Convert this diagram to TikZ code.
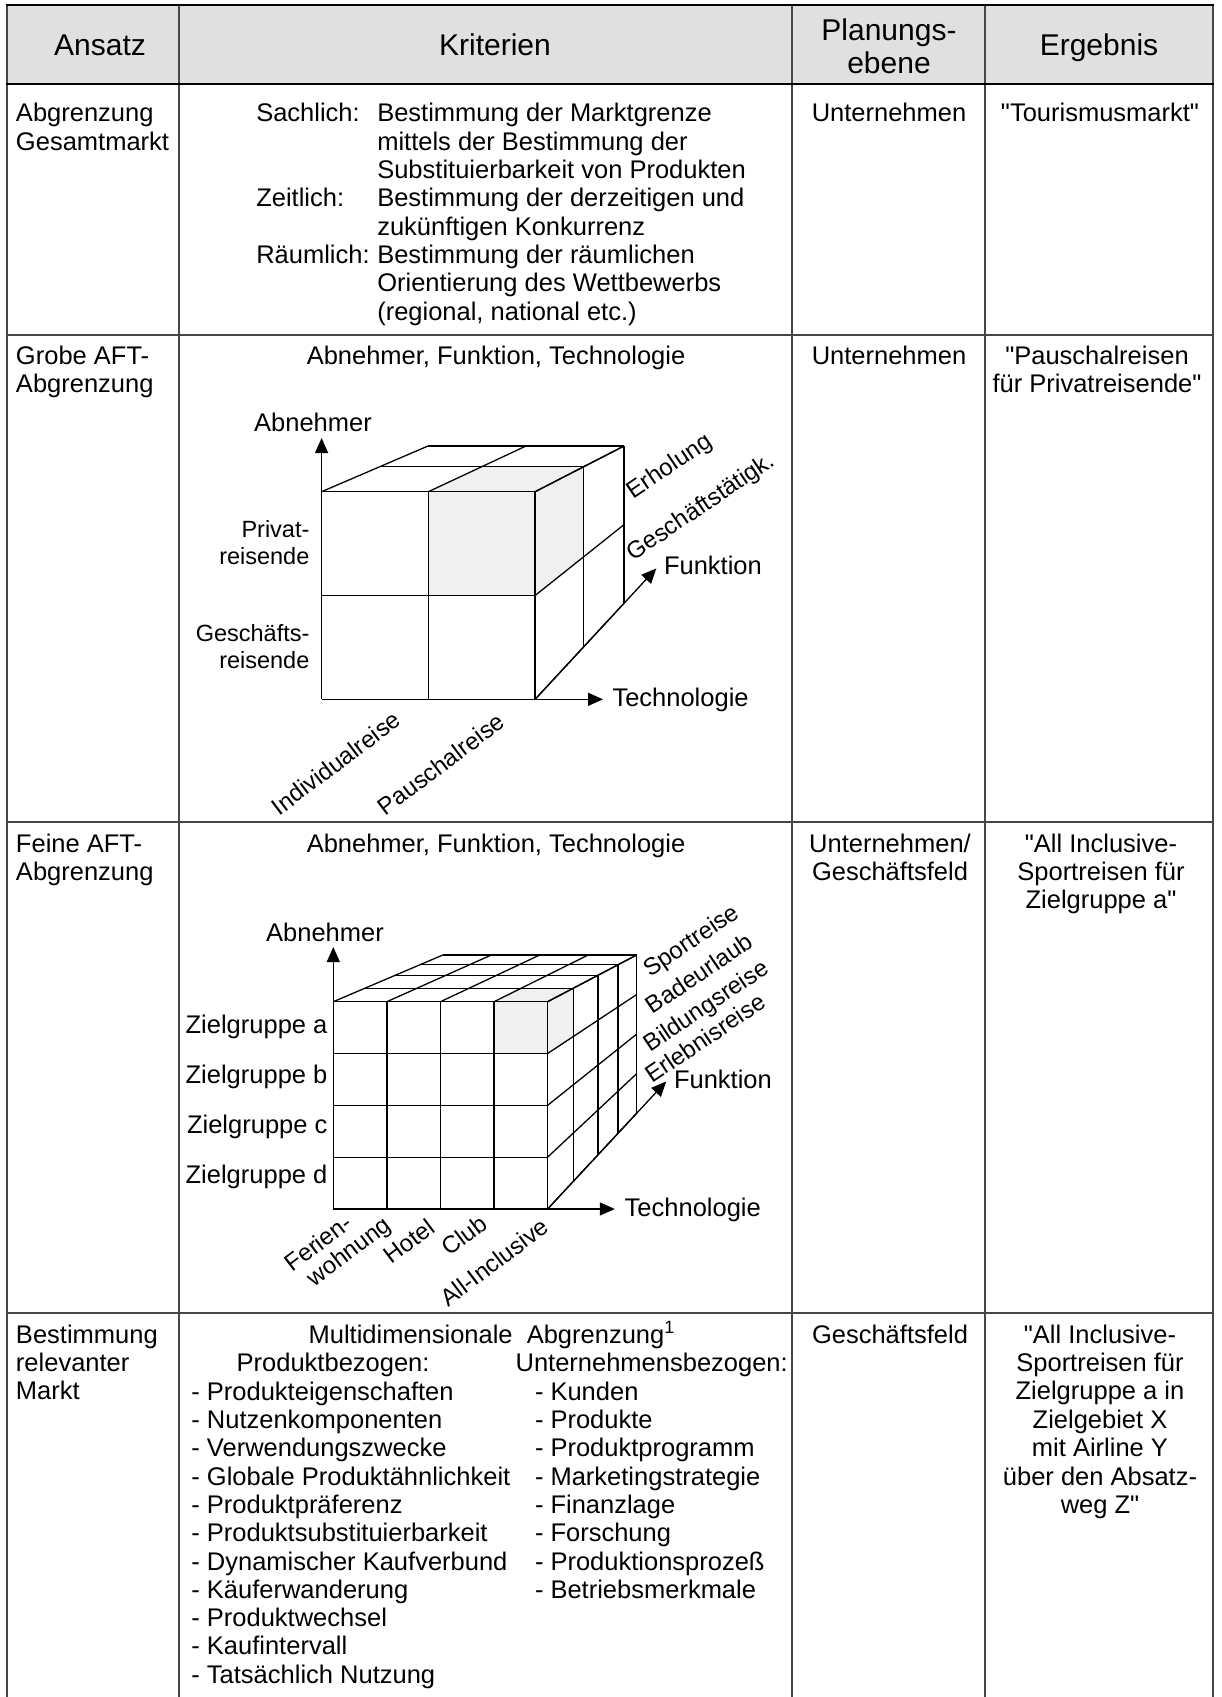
\documentclass[tikz,border=0pt]{standalone}
\usepackage{fontspec}
\setmainfont{Liberation Sans}[Ligatures=TeXOff]
\usetikzlibrary{arrows.meta,calc}

\definecolor{headfill}{RGB}{224,224,224}
\definecolor{cubefill}{RGB}{240,240,240}
\definecolor{rulegray}{RGB}{70,70,70}

% one node per text line, baselines spaced evenly
\newcommand\stacklines[6]{%
  \foreach \lineText [count=\cnt from 0] in {#6}{%
    \node[#2] (#1-\cnt) at (#3,{#4+#5*\cnt}) {\lineText};}}

% grid points of a box: front face (f), top face (t), right face (r)
% front/back face geometry in \cFx,\cFy,\cFw,\cFh / \cBx,\cBy,\cBw,\cBh
\newcommand\buildcube[4]{%
  \foreach \w [count=\k from 0] in {#4}{%
    \foreach \i in {0,...,#2}{%
      \coordinate (#1t\i-\k) at ({(1-\w)*(\cFx+\i/#2*\cFw)+\w*(\cBx+\i/#2*\cBw)},{(1-\w)*(\cFy-\cFh)+\w*(\cBy-\cBh)});}
    \foreach \j in {0,...,#3}{%
      \coordinate (#1r\j-\k) at ({(1-\w)*(\cFx+\cFw)+\w*(\cBx+\cBw)},{(1-\w)*(\cFy-\j/#3*\cFh)+\w*(\cBy-\j/#3*\cBh)});}}
  \foreach \i in {0,...,#2}{\foreach \j in {0,...,#3}{%
    \coordinate (#1f\i-\j) at ({\cFx+\i/#2*\cFw},{\cFy-\j/#3*\cFh});}}}

\newcommand\drawcube[4]{%
  \foreach \i in {0,...,#2} \draw[cubeline] (#1f\i-0) -- (#1f\i-#3);
  \foreach \j in {0,...,#3} \draw[cubeline] (#1f0-\j) -- (#1f#2-\j);
  \foreach \k in {0,...,#4} \draw[cubeline] (#1t0-\k) -- (#1t#2-\k);
  \foreach \i in {0,...,#2} \draw[cubeline] (#1t\i-0) -- (#1t\i-#4);
  \foreach \k in {0,...,#4} \draw[cubeline] (#1r0-\k) -- (#1r#3-\k);
  \foreach \j in {0,...,#3} \draw[cubeline] (#1r\j-0) -- (#1r\j-#4);}

\begin{document}
\begin{tikzpicture}[x=1pt,y=-1pt,
  txt/.style={font=\fontsize{25.5}{28.4}\selectfont,inner sep=0pt,outer sep=0pt},
  hdr/.style={font=\fontsize{30}{33}\selectfont,inner sep=0pt,outer sep=0pt},
  axlbl/.style={font=\fontsize{25.5}{28}\selectfont,inner sep=0pt,outer sep=0pt},
  sidelbl/.style={font=\fontsize{23.5}{27}\selectfont,inner sep=0pt,outer sep=0pt},
  rotlbl/.style={font=\fontsize{24}{27}\selectfont,inner sep=0pt,outer sep=0pt},
  depthlbl/.style={rotlbl,rotate=34},
  techlbl/.style={rotlbl,rotate=37},
  rule/.style={draw=rulegray,line width=1.6pt},
  headrule/.style={draw=black,line width=2.2pt},
  cubeline/.style={draw=black,line width=1.3pt},
  axis/.style={draw=black,line width=1.3pt,-{Triangle[length=15pt,width=13pt]}}]

\useasboundingbox (0,0) rectangle (1221,1697);
\fill[white] (0,0) rectangle (1221,1697);

% ---------- header ----------
\fill[headfill] (7,5) rectangle (1213,84);
\node[hdr,anchor=base] (hAnsatz) at (100,55) {Ansatz};
\node[hdr,anchor=base] (hKrit) at (495,55) {Kriterien};
\stacklines{hPlan}{hdr,anchor=base}{889}{40}{33}{Planungs-,ebene}
\node[hdr,anchor=base] (hErg) at (1099,55) {Ergebnis};

% ---------- row 1 ----------
\stacklines{ans1}{txt,anchor=base west}{16}{121.7}{28.4}{Abgrenzung,Gesamtmarkt}
\node[txt,anchor=base west] (sach) at (256.3,121.7) {Sachlich:};
\node[txt,anchor=base west] (zeit) at (256.3,206.7) {Zeitlich:};
\node[txt,anchor=base west] (raum) at (256.3,263.3) {Räumlich:};
\stacklines{krit1}{txt,anchor=base west}{377.3}{121.7}{28.33}{Bestimmung der Marktgrenze,mittels der Bestimmung der,Substituierbarkeit von Produkten,Bestimmung der derzeitigen und,zukünftigen Konkurrenz,Bestimmung der räumlichen,Orientierung des Wettbewerbs,{(regional, national etc.)}}
\node[txt,anchor=base] (plan1) at (889,121.7) {Unternehmen};
\node[txt,anchor=base] (erg1) at (1100,121.7) {"Tourismusmarkt"};

% ---------- row 2 ----------
\stacklines{ans2}{txt,anchor=base west}{16}{364}{28.4}{Grobe AFT-,Abgrenzung}
\node[txt,anchor=base] (krit2) at (496,364) {Abnehmer, Funktion, Technologie};
\node[txt,anchor=base] (plan2) at (889,364) {Unternehmen};
\stacklines{erg2}{txt,anchor=base}{1097}{364}{28.4}{"Pauschalreisen,für Privatreisende"}

% coarse cube: 2 x 2 x 2
\def\cFx{321.6}\def\cFy{699.3}\def\cFw{213.5}\def\cFh{207.6}
\def\cBx{428}\def\cBy{603.3}\def\cBw{196}\def\cBh{157.3}
\buildcube{A}{2}{2}{0,0.545,1}
\fill[cubefill] (Af1-1) -- (Af2-1) -- (Af2-2) -- (Af1-2) -- cycle;
\fill[cubefill] (At1-0) -- (At2-0) -- (At2-1) -- (At1-1) -- cycle;
\fill[cubefill] (Ar1-0) -- (Ar2-0) -- (Ar2-1) -- (Ar1-1) -- cycle;
\drawcube{A}{2}{2}{2}
\coordinate (AabnTip) at (321.6,438);
\coordinate (AtechTip) at (603,699.3);
\coordinate (AfktTip) at ($(Af2-0)!1.364!(Ar0-2)$);
\draw[axis] (Af0-2) -- (AabnTip);
\draw[axis] (Af2-0) -- (AtechTip);
\draw[axis] (Af2-0) -- (AfktTip);
\node[axlbl,anchor=base] (Aabn) at (313,431) {Abnehmer};
\node[axlbl,anchor=base west] (Atech) at (612.5,706) {Technologie};
\node[axlbl,anchor=base west] (Afkt) at (664,574) {Funktion};
\stacklines{Apriv}{sidelbl,anchor=base east}{309.4}{537}{27}{Privat-,reisende}
\stacklines{Agesch}{sidelbl,anchor=base east}{309.4}{641}{27}{Geschäfts-,reisende}
\node[techlbl] (Aind) at (336,763) {Individualreise};
\node[techlbl] (Apau) at (441,764) {Pauschalreise};
\node[depthlbl] (Aerh) at (670,467) {Erholung};
\node[depthlbl,anchor=base west] (Ages) at (633.5,561) {Geschäftstätigk.};

% ---------- row 3 ----------
\stacklines{ans3}{txt,anchor=base west}{16}{852}{28.4}{Feine AFT-,Abgrenzung}
\node[txt,anchor=base] (krit3) at (496,852) {Abnehmer, Funktion, Technologie};
\stacklines{plan3}{txt,anchor=base}{890}{852}{28.4}{Unternehmen/,Geschäftsfeld}
\stacklines{erg3}{txt,anchor=base}{1101}{852}{28.4}{"All Inclusive-,Sportreisen für,Zielgruppe a"}

% fine cube: 4 x 4 x 4
\def\cFx{333.3}\def\cFy{1209}\def\cFw{214.3}\def\cFh{207.3}
\def\cBx{442.8}\def\cBy{1113.3}\def\cBw{193.8}\def\cBh{158.3}
\buildcube{B}{4}{4}{0,0.29,0.565,0.79,1}
\fill[cubefill] (Bf3-3) -- (Bf4-3) -- (Bf4-4) -- (Bf3-4) -- cycle;
\fill[cubefill] (Bt3-0) -- (Bt4-0) -- (Bt4-1) -- (Bt3-1) -- cycle;
\fill[cubefill] (Br3-0) -- (Br4-0) -- (Br4-1) -- (Br3-1) -- cycle;
\drawcube{B}{4}{4}{4}
\coordinate (BabnTip) at (333.3,947);
\coordinate (BtechTip) at (614.8,1209);
\coordinate (BfktTip) at ($(Bf4-0)!1.333!(Br0-4)$);
\draw[axis] (Bf0-4) -- (BabnTip);
\draw[axis] (Bf4-0) -- (BtechTip);
\draw[axis] (Bf4-0) -- (BfktTip);
\node[axlbl,anchor=base] (Babn) at (325,941) {Abnehmer};
\node[axlbl,anchor=base west] (Btech) at (624.7,1216) {Technologie};
\node[axlbl,anchor=base west] (Bfkt) at (674,1088) {Funktion};
\stacklines{Bziel}{axlbl,anchor=base east}{327.4}{1033.3}{50.2}{Zielgruppe a,Zielgruppe b,Zielgruppe c,Zielgruppe d}
\node[depthlbl] (Bspo) at (692,942) {Sportreise};
\node[depthlbl] (Bbad) at (699,973) {Badeurlaub};
\node[depthlbl] (Bbil) at (707,1007) {Bildungsreise};
\node[depthlbl] (Berl) at (705,1038) {Erlebnisreise};
\node[techlbl] (Bfer) at (318,1243) {Ferien-};
\node[techlbl] (Bwoh) at (350,1253) {wohnung};
\node[techlbl] (Bhot) at (409,1241) {Hotel};
\node[techlbl] (Bclu) at (464,1235) {Club};
\node[techlbl] (Ball) at (494,1262) {All-Inclusive};

% ---------- row 4 ----------
\stacklines{ans4}{txt,anchor=base west}{16}{1343}{28.4}{Bestimmung,relevanter,Markt}
\node[txt,anchor=base west] (multi) at (308.6,1343) {Multidimensionale\ \ Abgrenzung\textsuperscript{1}};
\node[txt,anchor=base west] (prodb) at (236.7,1371.7) {Produktbezogen:};
\node[txt,anchor=base west] (untb) at (515.6,1371.7) {Unternehmensbezogen:};
\stacklines{plist}{txt,anchor=base west}{191.4}{1400}{28.33}{- Produkteigenschaften,- Nutzenkomponenten,- Verwendungszwecke,- Globale Produktähnlichkeit,- Produktpräferenz,- Produktsubstituierbarkeit,- Dynamischer Kaufverbund,- Käuferwanderung,- Produktwechsel,- Kaufintervall,- Tatsächlich Nutzung}
\stacklines{ulist}{txt,anchor=base west}{535}{1400}{28.33}{- Kunden,- Produkte,- Produktprogramm,- Marketingstrategie,- Finanzlage,- Forschung,- Produktionsprozeß,- Betriebsmerkmale}
\node[txt,anchor=base] (plan4) at (890,1343) {Geschäftsfeld};
\stacklines{erg4}{txt,anchor=base}{1100}{1343}{28.4}{"All Inclusive-,Sportreisen für,Zielgruppe a in,Zielgebiet X,mit Airline Y,über den Absatz-,weg Z"}

% ---------- table rules ----------
\foreach \yy in {335,822,1313} \draw[rule] (7,\yy) -- (1213,\yy);
\foreach \xx in {7,179,792,985,1213} \draw[rule] (\xx,5) -- (\xx,1697);
\draw[headrule] (6,5) -- (1214,5);
\draw[headrule] (6,84) -- (1214,84);
\end{tikzpicture}
\end{document}
